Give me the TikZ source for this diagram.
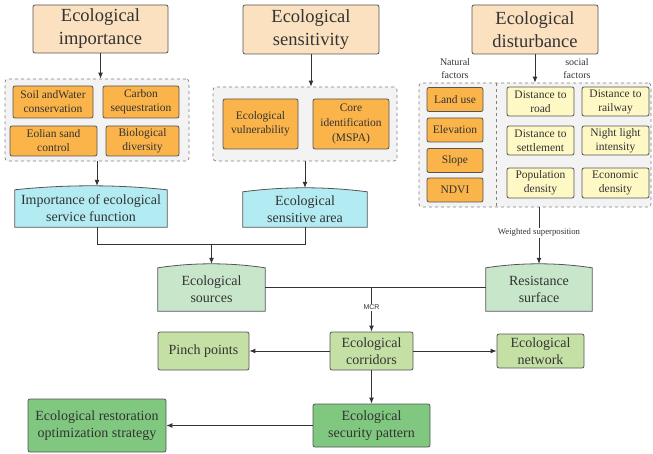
\documentclass[tikz,border=0pt]{standalone}
\usepackage{fontspec}
\setmainfont{Liberation Serif}
\newfontfamily\mcrfont{Liberation Sans}
\usetikzlibrary{arrows.meta,calc}
\definecolor{peach}{HTML}{FBE1BF}
\definecolor{orng}{HTML}{FBB44A}
\definecolor{cyanb}{HTML}{B3EBF2}
\definecolor{greenl}{HTML}{C8E6C9}
\definecolor{greenm}{HTML}{C5E0A5}
\definecolor{greend}{HTML}{80C77F}
\definecolor{yell}{HTML}{FEF8C4}
\definecolor{grp}{HTML}{F3F3F3}
\definecolor{bord}{HTML}{555555}
\definecolor{txt}{HTML}{333333}
\tikzset{
  base/.style={draw=bord, line width=0.8pt, rounded corners=2pt, align=center, text=txt, inner sep=1pt},
  title/.style={base, fill=peach, font=\fontsize{18.5}{23}\selectfont},
  ibox/.style={base, fill=orng, font=\fontsize{11.5}{14}\selectfont},
  ybox/.style={base, fill=yell, font=\fontsize{11.5}{14}\selectfont},
  grpbox/.style={draw=gray, dashed, line width=0.7pt, fill=grp, rounded corners=3pt},
  mid/.style={base, font=\fontsize{14}{17}\selectfont},
  curv/.style={draw=none, align=center, text=txt, inner sep=1pt, font=\fontsize{14}{17}\selectfont},
  sml/.style={text=txt, align=center, font=\fontsize{10}{13}\selectfont},
  lbl/.style={fill=white, text=txt, inner sep=1pt},
  arr/.style={draw=txt, line width=0.9pt, -{Latex[length=6pt,width=5pt]}},
  ln/.style={draw=txt, line width=0.9pt},
}
\newcommand{\curvetop}[2]{%
  \draw[draw=bord, line width=0.8pt, fill=#2]
    (#1.south west) -- ([yshift=-4pt]#1.north west)
    .. controls ($([yshift=-4pt]#1.north west)!0.33!([yshift=-4pt]#1.north east)+(0,-5.33)$)
       and ($([yshift=-4pt]#1.north west)!0.67!([yshift=-4pt]#1.north east)+(0,-5.33)$)
    .. ([yshift=-4pt]#1.north east) -- (#1.south east) -- cycle;}
\begin{document}
\begin{tikzpicture}[x=1pt,y=-1pt]
\useasboundingbox (0,0) rectangle (653,454);
% groups
\node[grpbox, minimum width=184pt, minimum height=82pt] (g1) at (97,120) {};
\node[grpbox, minimum width=184pt, minimum height=74pt] (g2) at (305,124) {};
\node[grpbox, minimum width=232pt, minimum height=124pt] (g3) at (535,145) {};
\draw[draw=gray, dashed, line width=0.7pt] (496,83) -- (496,207);
% titles
\node[title, minimum width=135pt, minimum height=48pt] (timp) at (100.5,29) {Ecological\\importance};
\node[title, minimum width=136pt, minimum height=49pt] (tsen) at (311,29.5) {Ecological\\sensitivity};
\node[title, minimum width=126pt, minimum height=49pt] (tdis) at (535,29.5) {Ecological\\disturbance};
% group 1
\node[ibox, minimum width=80pt, minimum height=32pt] (soil) at (53,102) {Soil andWater\\conservation};
\node[ibox, minimum width=76pt, minimum height=32pt] (carb) at (141,102) {Carbon\\sequestration};
\node[ibox, minimum width=87pt, minimum height=30pt] (eol) at (53.5,141) {Eolian sand\\control};
\node[ibox, minimum width=73pt, minimum height=30pt] (bio) at (142.5,141) {Biological\\diversity};
% group 2
\node[ibox, minimum width=75pt, minimum height=50pt] (vul) at (260.5,124) {Ecological\\vulnerability};
\node[ibox, minimum width=76pt, minimum height=50pt, font=\fontsize{11.5}{15}\selectfont] (core) at (351,124) {Core\\identification\\(MSPA)};
% group 3
\node[sml] (nat) at (455,68.5) {Natural\\factors};
\node[sml] (soc) at (577,68.5) {social\\factors};
\node[ibox, minimum width=56pt, minimum height=24pt] (land) at (455,99.5) {Land use};
\node[ibox, minimum width=56pt, minimum height=24pt] (elev) at (455,130) {Elevation};
\node[ibox, minimum width=56pt, minimum height=24pt] (slope) at (455,160.5) {Slope};
\node[ibox, minimum width=56pt, minimum height=24pt] (ndvi) at (455,190) {NDVI};
\node[ybox, minimum width=67pt, minimum height=29pt] (road) at (540.5,101.5) {Distance to\\road};
\node[ybox, minimum width=67pt, minimum height=29pt] (rail) at (615.5,101.5) {Distance to\\railway};
\node[ybox, minimum width=67pt, minimum height=29pt] (sett) at (540.5,140.5) {Distance to\\settlement};
\node[ybox, minimum width=67pt, minimum height=29pt] (night) at (615.5,140.5) {Night light\\intensity};
\node[ybox, minimum width=67pt, minimum height=30pt] (pop) at (540.5,183) {Population\\density};
\node[ybox, minimum width=67pt, minimum height=30pt] (eco) at (615.5,183) {Economic\\density};
% curved-top boxes
\node[curv, minimum width=152pt, minimum height=41pt] (imp) at (91,206.5) {};
\curvetop{imp}{cyanb}
\node[curv] at (91,208) {Importance of ecological\\service function};
\node[curv, minimum width=124pt, minimum height=39pt] (sens) at (305,207.5) {};
\curvetop{sens}{cyanb}
\node[curv] at (305,209) {Ecological\\sensitive area};
\node[curv, minimum width=107pt, minimum height=47pt] (src) at (211.5,287.5) {};
\curvetop{src}{greenl}
\node[curv] at (211.5,289) {Ecological\\sources};
\node[curv, minimum width=106pt, minimum height=47pt] (res) at (539,287.5) {};
\curvetop{res}{greenl}
\node[curv] at (539,289) {Resistance\\surface};
% lower boxes
\node[mid, fill=greenm, minimum width=91pt, minimum height=38pt] (pinch) at (203.5,351) {Pinch points};
\node[mid, fill=greenm, minimum width=83pt, minimum height=38pt] (cor) at (371.5,351) {Ecological\\corridors};
\node[mid, fill=greenm, minimum width=87pt, minimum height=34pt] (net) at (540.5,351) {Ecological\\network};
\node[mid, fill=greend, minimum width=117pt, minimum height=43pt] (sec) at (371.5,425.5) {Ecological\\security pattern};
\node[mid, fill=greend, minimum width=138pt, minimum height=53pt] (rest) at (97,425.5) {Ecological restoration\\optimization strategy};
% connectors
\draw[arr] (timp.south) -- (timp.south |- g1.north);
\draw[arr] (tsen.south) -- (tsen.south |- g2.north);
\draw[arr] (tdis.south) -- (tdis.south |- g3.north);
\draw[arr] (g1.south) -- (g1.south |- imp.north);
\draw[arr] (g2.south) -- (sens.north);
\coordinate (jl) at (g1.south |- 0,244);
\draw[ln] (g1.south |- imp.south) -- (jl) -- (jl -| sens.south) -- (sens.south);
\draw[arr] (jl -| src.north) -- (src.north);
\draw[arr] (res.north |- g3.south) -- node[lbl, pos=0.45, font=\fontsize{8.7}{10}\selectfont]{Weighted superposition} (res.north);
\draw[ln] (src.east) -- (res.west);
\draw[arr] (cor.north |- src.east) -- node[lbl, pos=0.45, font=\mcrfont\fontsize{7}{8}\selectfont]{MCR} (cor.north);
\draw[arr] (cor.west) -- (pinch.east);
\draw[arr] (cor.east) -- (net.west);
\draw[arr] (cor.south) -- (sec.north);
\draw[arr] (sec.west) -- (rest.east);
\end{tikzpicture}
\end{document}
